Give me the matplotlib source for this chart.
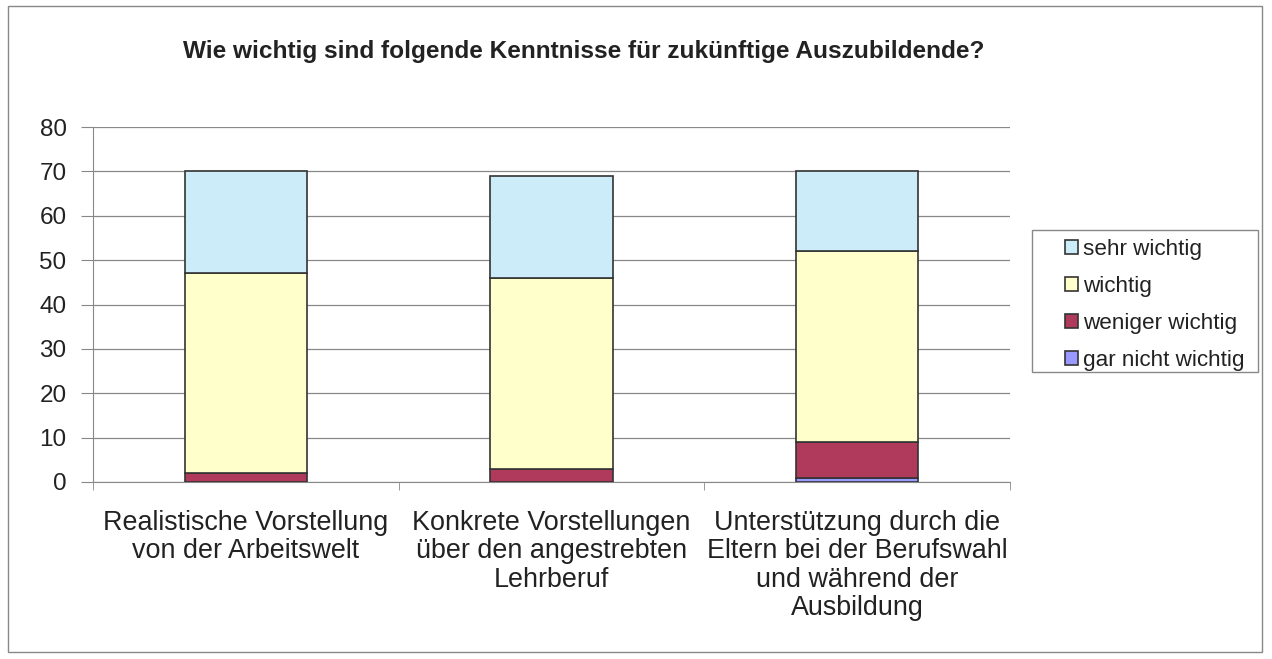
import matplotlib
matplotlib.use("Agg")
import matplotlib.pyplot as plt
from matplotlib.patches import Rectangle
import numpy as np

categories = ["Realistische Vorstellung\nvon der Arbeitswelt",
              "Konkrete Vorstellungen\nüber den angestrebten\nLehrberuf",
              "Unterstützung durch die\nEltern bei der Berufswahl\nund während der\nAusbildung"]
series_names = ["gar nicht wichtig", "weniger wichtig", "wichtig", "sehr wichtig"]
gar_nicht = [0, 0, 1]
weniger = [2, 3, 8]
wichtig = [45, 43, 43]
sehr = [23, 23, 18]
yticks = [0, 10, 20, 30, 40, 50, 60, 70, 80]

colors = ["#9999ff", "#b03a5b", "#ffffcc", "#ccecfa"]

plt.rcParams['font.family'] = ['Liberation Sans', 'DejaVu Sans']

W, H = 1272, 659
fig = plt.figure(figsize=(W/100, H/100), dpi=100)
fig.patches.append(Rectangle((8/W, 7/H), 1254/W, 646/H, transform=fig.transFigure,
                             fill=False, edgecolor="#888888", linewidth=1))
ax = fig.add_axes([93/W, 1 - 482/H, (1010-93)/W, (482-127)/H])

x = np.arange(len(categories))
data = [gar_nicht, weniger, wichtig, sehr]
bottom = np.zeros(len(categories))
bars = []
for vals, col, name in zip(data, colors, series_names):
    b = ax.bar(x, vals, width=0.4, bottom=bottom, color=col, edgecolor="#333333",
               linewidth=1.2, label=name, zorder=3)
    bars.append(b)
    bottom += np.array(vals)

ax.set_xlim(-0.5, len(categories) - 0.5)
ax.set_ylim(0, 80)
ax.set_yticks(yticks)
ax.set_yticklabels([str(v) for v in yticks], fontsize=17.5, color="#222222")
ax.yaxis.grid(True, color="#888888", linewidth=0.9, zorder=0)
ax.set_xticks(x)
ax.set_xticklabels(categories, fontsize=19.4, linespacing=1.12, color="#222222")
ax.set_xticks(np.arange(-0.5, len(categories)), minor=True)
ax.tick_params(axis='x', which='major', length=0, pad=20)
ax.tick_params(axis='x', which='minor', length=6, color="#888888")
ax.tick_params(axis='y', length=9, color="#888888", pad=10)
for s in ["top", "right"]:
    ax.spines[s].set_visible(False)
for s in ["left", "bottom"]:
    ax.spines[s].set_color("#888888")

fig.text(584/W, 1 - 58/H, "Wie wichtig sind folgende Kenntnisse für zukünftige Auszubildende?",
         ha="center", va="baseline", fontsize=17.6, fontweight="bold", color="#222222")

# legend frame
fig.patches.append(Rectangle((1032/W, 1 - 372/H), (1258-1032)/W, (372-230)/H,
                             transform=fig.transFigure, fill=False,
                             edgecolor="#888888", linewidth=1))
handles = bars[::-1]
labels = series_names[::-1]
leg = fig.legend(handles, labels, loc="center left",
                 bbox_to_anchor=(1065/W, 1 - 305/H), fontsize=16.2,
                 frameon=False,
                 handlelength=0.58, handleheight=0.58, handletextpad=0.22,
                 labelspacing=0.7, borderpad=0, borderaxespad=0)
for t in leg.get_texts():
    t.set_color("#222222")

fig.savefig("out.png", dpi=100)
